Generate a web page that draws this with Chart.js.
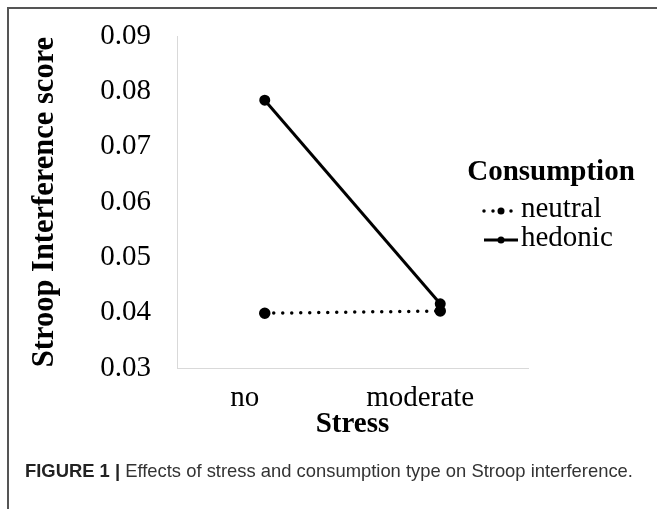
<!DOCTYPE html>
<html>
<head>
<meta charset="utf-8">
<script src="https://cdn.jsdelivr.net/npm/chart.js@4/dist/chart.umd.min.js"></script>
<style>
  body { margin: 0; background: #fff; }
  .wrap { position: relative; width: 657px; height: 509px; overflow: hidden; }
  .frame { position: absolute; left: 7px; top: 7px; width: 700px; height: 600px;
           border-left: 2px solid #555; border-top: 2px solid #555; }
  canvas { position: absolute; left: 0; top: 0; }
  .caption { position: absolute; left: 25px; top: 460px; font-family: 'Liberation Sans', Arial, sans-serif;
             font-size: 18.4px; color: #333; white-space: nowrap; }
  .caption b { color: #222; }
</style>
</head>
<body>
<div class="wrap">
  <div class="frame"></div>
  <canvas id="myChart" width="657" height="509"></canvas>
  <div class="caption"><b>FIGURE 1 |</b> Effects of stress and consumption type on Stroop interference.</div>
</div>
<script>
const stressLevels = ['no', 'moderate'];
const neutralScores = [0.0399, 0.0403];
const hedonicScores = [0.0784, 0.0416];
const yTicks = [0.03, 0.04, 0.05, 0.06, 0.07, 0.08, 0.09];

const serif = "'Liberation Serif', 'Times New Roman', serif";

// legend drawn by hand so the dotted / solid samples look like the original
const legendBox = {
    id: 'legendBox',
    afterDraw(chart) {
        const ctx = chart.ctx;
        ctx.save();
        ctx.fillStyle = '#000';
        ctx.textBaseline = 'middle';
        ctx.font = 'bold 29px ' + serif;
        ctx.textAlign = 'center';
        ctx.fillText('Consumption', 551, 173);
        ctx.textAlign = 'left';
        ctx.font = '29px ' + serif;
        const rows = [211, 240];
        chart.data.datasets.forEach((ds, i) => {
            const y = rows[i];
            ctx.strokeStyle = ds.borderColor;
            ctx.lineWidth = ds.borderWidth;
            ctx.lineCap = ds.borderCapStyle || 'butt';
            ctx.setLineDash(ds.borderDash || []);
            ctx.beginPath();
            ctx.moveTo(484, y);
            ctx.lineTo(518, y);
            ctx.stroke();
            ctx.setLineDash([]);
            ctx.beginPath();
            ctx.arc(501, y, 3.5, 0, Math.PI * 2);
            ctx.fillStyle = '#000';
            ctx.fill();
            ctx.fillText(ds.label, 521, y - 2);
        });
        ctx.restore();
    }
};

const chart = new Chart(document.getElementById('myChart'), {
    type: 'line',
    data: {
        labels: stressLevels,
        datasets: [{
            label: 'neutral',
            data: neutralScores,
            borderColor: '#000',
            backgroundColor: '#000',
            borderWidth: 3.5,
            borderDash: [0, 9],
            borderCapStyle: 'round',
            pointRadius: 4,
            pointHoverRadius: 4
        }, {
            label: 'hedonic',
            data: hedonicScores,
            borderColor: '#000',
            backgroundColor: '#000',
            borderWidth: 3,
            pointRadius: 4,
            pointHoverRadius: 4
        }]
    },
    options: {
        responsive: false,
        animation: false,
        layout: {
            padding: { left: 8, top: 36, right: 129, bottom: 61 }
        },
        plugins: {
            legend: { display: false },
            tooltip: { enabled: false }
        },
        scales: {
            x: {
                offset: true,
                grid: { display: false, drawTicks: false },
                border: { display: true, color: '#d9d9d9', width: 1 },
                ticks: {
                    color: '#000',
                    font: { family: serif, size: 29 },
                    padding: 13,
                    labelOffset: -20
                },
                title: {
                    display: true,
                    text: 'Stress',
                    color: '#000',
                    font: { family: serif, size: 29, weight: 'bold' },
                    padding: { top: 0, bottom: 6 }
                },
                afterFit: scale => { scale.height = 80; }
            },
            y: {
                min: 0.03,
                max: 0.09,
                afterBuildTicks: scale => { scale.ticks = yTicks.map(v => ({ value: v })); },
                grid: { display: false, drawTicks: false },
                border: { display: true, color: '#d9d9d9', width: 1 },
                ticks: {
                    color: '#000',
                    font: { family: serif, size: 29 },
                    padding: 26,
                    callback: v => v.toFixed(2)
                },
                title: {
                    display: true,
                    text: 'Stroop Interference score',
                    color: '#000',
                    font: { family: serif, size: 30.5, weight: 'bold' },
                    padding: { top: 19, bottom: 0 }
                },
                afterFit: scale => {
                    scale.width = 169;
                    scale.paddingTop = 0;
                    scale.paddingBottom = 0;
                }
            }
        }
    },
    plugins: [legendBox]
});
</script>
</body>
</html>
